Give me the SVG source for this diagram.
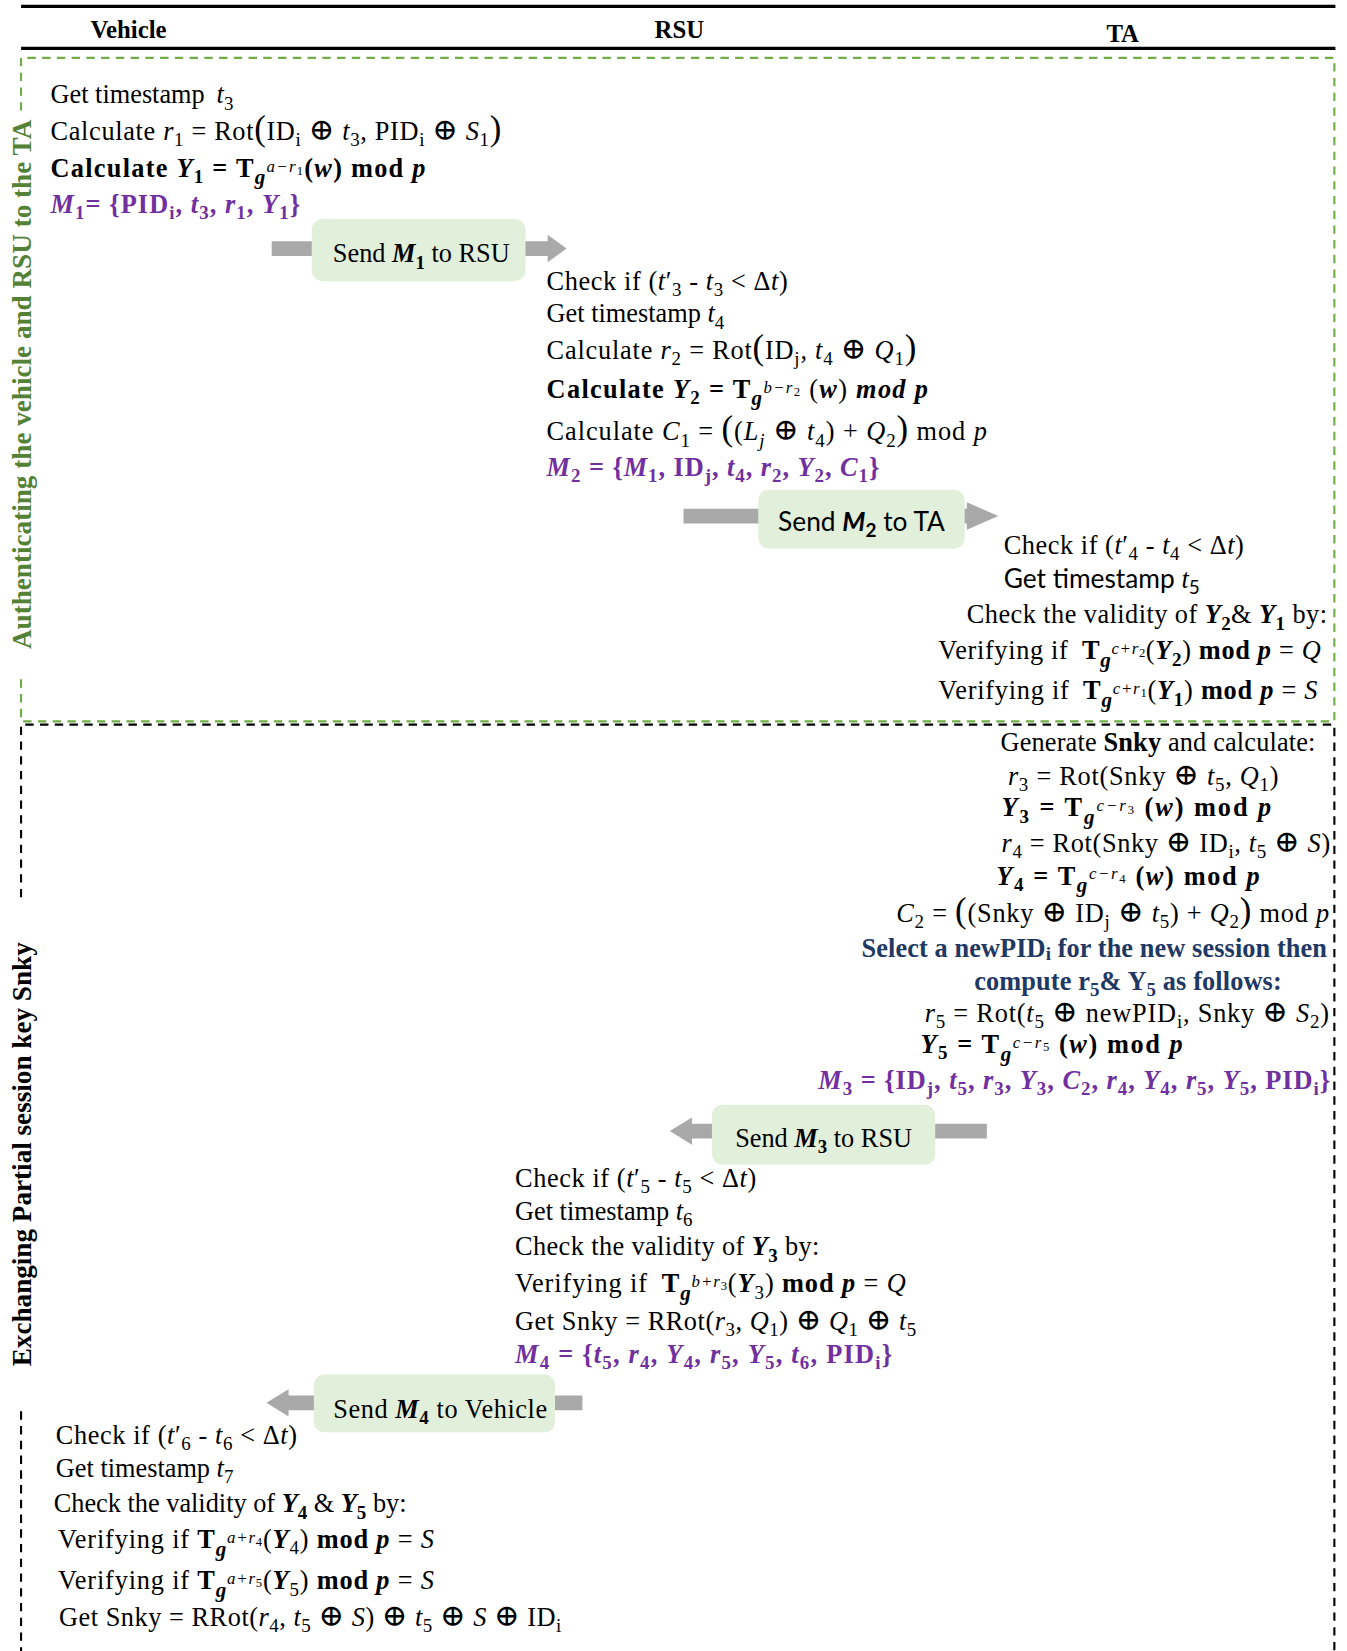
<svg xmlns="http://www.w3.org/2000/svg" width="1347" height="1651" viewBox="0 0 1347 1651">
<style>
text { font-family: "Liberation Serif", "DejaVu Serif", serif; font-size: 25px; fill: #000; }
.b { font-weight: 700; }
.i { font-style: italic; }
.s { font-size: 18px; }
.g { font-size: 20px; font-weight: 700; font-style: italic; }
.sp { font-size: 16px; font-style: italic; font-weight: 400; }
.ss { font-size: 12px; font-style: normal; font-weight: 400; }
.bp { font-size: 33px; font-weight: 400; font-style: normal; }
.x { font-size: 29px; font-weight: 400; font-style: normal; }
.pu { fill: #7030a0; }
.nv { fill: #1f3864; }
.sans { font-family: Lato, "Liberation Sans", sans-serif; }
.hd { font-size: 23.5px; font-weight: 700; }
.side { font-size: 25.8px; font-weight: 700; }
.msg { fill: #e2efda; }
.arrow { fill: #a9a9a9; }
.rule { stroke: #000; stroke-width: 3; }
.gdash { fill: none; stroke: #70ad47; stroke-width: 2; stroke-dasharray: 8 6; }
.kdash { fill: none; stroke: #000; stroke-width: 2; stroke-dasharray: 8 6; }
</style>
<rect width="1347" height="1651" fill="#fff"/>
<g transform="scale(1.05317)">

<!-- column header -->
<g id="header">
<line class="rule" x1="20" y1="6" x2="1268" y2="6"/>
<line class="rule" x1="20" y1="46" x2="1268" y2="46"/>
<text class="hd" x="122" y="36" text-anchor="middle">Vehicle</text>
<text class="hd" x="645" y="36" text-anchor="middle">RSU</text>
<text class="hd" x="1066" y="40" text-anchor="middle">TA</text>
</g>

<!-- phase frames and their vertical captions -->
<g id="phase-auth">
<path class="gdash" d="M20 105 V55 H1267 V685 H20 V640"/>
<text class="side" style="fill:#538135" transform="translate(29,365) rotate(-90)" text-anchor="middle">Authenticating the vehicle and RSU to the TA</text>
</g>
<g id="phase-key">
<path class="kdash" d="M20 852 V688 H1267 V1568"/>
<path class="kdash" d="M20 1340 V1568"/>
<text class="side" transform="translate(29,1096) rotate(-90)" text-anchor="middle">Exchanging Partial session key Snky</text>
</g>

<!-- message arrows -->
<g id="connectors">
<polygon class="arrow" points="258,229 520,229 520,223 538,236 520,249 520,243 258,243"/>
<polygon class="arrow" points="649,483 918,483 918,477 948,490 918,503 918,497 649,497"/>
<polygon class="arrow" points="937,1067 657,1067 657,1061 636,1074 657,1087 657,1081 937,1081"/>
<polygon class="arrow" points="553,1325 274,1325 274,1319 253,1332 274,1345 274,1339 553,1339"/>
</g>

<!-- message boxes -->
<g id="send-m1">
<rect class="msg" x="296" y="208" width="203" height="59" rx="10"/>
<text x="400" y="249" text-anchor="middle">Send <tspan class="b i">M</tspan><tspan class="s b" dy="6">1</tspan><tspan dy="-6"> to RSU</tspan></text>
</g>
<g id="send-m2">
<rect class="msg" x="720" y="465" width="196" height="56" rx="10"/>
<text class="sans" x="818" y="504" text-anchor="middle">Send <tspan class="b i">M</tspan><tspan class="s b" dy="6">2</tspan><tspan dy="-6"> to TA</tspan></text>
</g>
<g id="send-m3">
<rect class="msg" x="676" y="1049" width="212" height="57" rx="10"/>
<text x="782" y="1089" text-anchor="middle">Send <tspan class="b i">M</tspan><tspan class="s b" dy="6">3</tspan><tspan dy="-6"> to RSU</tspan></text>
</g>
<g id="send-m4">
<rect class="msg" x="298" y="1305" width="229" height="55" rx="10"/>
<text x="418" y="1346" text-anchor="middle" textLength="203">Send <tspan class="b i">M</tspan><tspan class="s b" dy="6">4</tspan><tspan dy="-6"> to Vehicle</tspan></text>
</g>

<!-- vehicle: build M1 -->
<g id="vehicle-step1">
<text x="48" y="98">Get timestamp <tspan dx="5" class="i">t</tspan><tspan class="s" dy="6">3</tspan></text>
<text x="48" y="133" textLength="428">Calculate <tspan class="i">r</tspan><tspan class="s" dy="6">1</tspan><tspan dy="-6"> = Rot</tspan><tspan class="bp">(</tspan><tspan>ID</tspan><tspan class="s" dy="6">i</tspan><tspan dy="-6"> </tspan><tspan class="x">⊕</tspan><tspan> </tspan><tspan class="i">t</tspan><tspan class="s" dy="6">3</tspan><tspan dy="-6">,  PID</tspan><tspan class="s" dy="6">i</tspan><tspan dy="-6"> </tspan><tspan class="x">⊕</tspan><tspan> </tspan><tspan class="i">S</tspan><tspan class="s" dy="6">1</tspan><tspan class="bp" dy="-6">)</tspan></text>
<text class="b" x="48" y="168" textLength="356">Calculate <tspan class="i">Y</tspan><tspan class="s" dy="6">1</tspan><tspan dy="-6"> = T</tspan><tspan class="g" dy="7">g</tspan><tspan class="sp" dy="-12">a−r</tspan><tspan class="ss" dy="3">1</tspan><tspan dy="2">(</tspan><tspan class="i">w</tspan><tspan>) mod </tspan><tspan class="i">p</tspan></text>
<text class="b pu" x="48" y="202" textLength="237"><tspan class="i">M</tspan><tspan class="s" dy="6">1</tspan><tspan dy="-6">= {PID</tspan><tspan class="s" dy="6">i</tspan><tspan dy="-6">, </tspan><tspan class="i">t</tspan><tspan class="s" dy="6">3</tspan><tspan dy="-6">, </tspan><tspan class="i">r</tspan><tspan class="s" dy="6">1</tspan><tspan dy="-6">, </tspan><tspan class="i">Y</tspan><tspan class="s" dy="6">1</tspan><tspan dy="-6">}</tspan></text>
</g>

<!-- RSU: check M1, build M2 -->
<g id="rsu-step1">
<text x="519" y="275" textLength="229">Check if (<tspan class="i">t</tspan>′<tspan class="s" dy="6">3</tspan><tspan dy="-6"> - </tspan><tspan class="i">t</tspan><tspan class="s" dy="6">3</tspan><tspan dy="-6"> &lt; Δ</tspan><tspan class="i">t</tspan>)</text>
<text x="519" y="306">Get timestamp <tspan class="i">t</tspan><tspan class="s" dy="6">4</tspan></text>
<text x="519" y="341" textLength="351">Calculate <tspan class="i">r</tspan><tspan class="s" dy="6">2</tspan><tspan dy="-6"> = Rot</tspan><tspan class="bp">(</tspan><tspan>ID</tspan><tspan class="s" dy="6">j</tspan><tspan dy="-6">,  </tspan><tspan class="i">t</tspan><tspan class="s" dy="6">4</tspan><tspan dy="-6"> </tspan><tspan class="x">⊕</tspan><tspan>  </tspan><tspan class="i">Q</tspan><tspan class="s" dy="6">1</tspan><tspan class="bp" dy="-6">)</tspan></text>
<text x="519" y="378" textLength="362"><tspan class="b">Calculate </tspan><tspan class="b i">Y</tspan><tspan class="s b" dy="6">2</tspan><tspan class="b" dy="-6"> = T</tspan><tspan class="g" dy="7">g</tspan><tspan class="sp" dy="-12">b−r</tspan><tspan class="ss" dy="3">2</tspan><tspan dy="2"> (</tspan><tspan class="b i">w</tspan><tspan>) </tspan><tspan class="b i">mod p</tspan></text>
<text x="519" y="418" textLength="418">Calculate <tspan class="i">C</tspan><tspan class="s" dy="6">1</tspan><tspan dy="-6"> = </tspan><tspan class="bp">(</tspan><tspan>(</tspan><tspan class="i">L</tspan><tspan class="s i" dy="6">j</tspan><tspan dy="-6"> </tspan><tspan class="x">⊕</tspan><tspan> </tspan><tspan class="i">t</tspan><tspan class="s" dy="6">4</tspan><tspan dy="-6">) +  </tspan><tspan class="i">Q</tspan><tspan class="s" dy="6">2</tspan><tspan class="bp" dy="-6">)</tspan><tspan> mod </tspan><tspan class="i">p</tspan></text>
<text class="b pu" x="519" y="452" textLength="316"><tspan class="i">M</tspan><tspan class="s" dy="6">2</tspan><tspan dy="-6"> = {</tspan><tspan class="i">M</tspan><tspan class="s" dy="6">1</tspan><tspan dy="-6">, ID</tspan><tspan class="s" dy="6">j</tspan><tspan dy="-6">, </tspan><tspan class="i">t</tspan><tspan class="s" dy="6">4</tspan><tspan dy="-6">, </tspan><tspan class="i">r</tspan><tspan class="s" dy="6">2</tspan><tspan dy="-6">, </tspan><tspan class="i">Y</tspan><tspan class="s" dy="6">2</tspan><tspan dy="-6">, </tspan><tspan class="i">C</tspan><tspan class="s" dy="6">1</tspan><tspan dy="-6">}</tspan></text>
</g>

<!-- TA: verify Y1 and Y2 -->
<g id="ta-step1">
<text x="953" y="526" textLength="228">Check if (<tspan class="i">t</tspan>′<tspan class="s" dy="6">4</tspan><tspan dy="-6"> - </tspan><tspan class="i">t</tspan><tspan class="s" dy="6">4</tspan><tspan dy="-6"> &lt; Δ</tspan><tspan class="i">t</tspan>)</text>
<text class="sans" x="953" y="558">Get timestamp <tspan class="i" style="font-family:'Liberation Serif',serif">t</tspan><tspan class="s" dy="6">5</tspan></text>
<text x="1260" y="592" text-anchor="end" textLength="342">Check the validity of <tspan class="b i">Y</tspan><tspan class="s b" dy="6">2</tspan><tspan dy="-6">&amp; </tspan><tspan class="b i">Y</tspan><tspan class="s b" dy="6">1</tspan><tspan dy="-6"> by:</tspan></text>
<text x="891" y="626" textLength="363">Verifying if  <tspan class="b" dx="6">T</tspan><tspan class="g" dy="7">g</tspan><tspan class="sp" dy="-12">c+r</tspan><tspan class="ss" dy="3">2</tspan><tspan dy="2">(</tspan><tspan class="b i">Y</tspan><tspan class="s b" dy="6">2</tspan><tspan dy="-6">) </tspan><tspan class="b">mod </tspan><tspan class="b i">p</tspan><tspan> = </tspan><tspan class="i">Q</tspan></text>
<text x="891" y="664" textLength="360">Verifying if  <tspan class="b" dx="6">T</tspan><tspan class="g" dy="7">g</tspan><tspan class="sp" dy="-12">c+r</tspan><tspan class="ss" dy="3">1</tspan><tspan dy="2">(</tspan><tspan class="b i">Y</tspan><tspan class="s b" dy="6">1</tspan><tspan dy="-6">) </tspan><tspan class="b">mod </tspan><tspan class="b i">p</tspan><tspan> = </tspan><tspan class="i">S</tspan></text>
</g>

<!-- TA: session key and M3 -->
<g id="ta-step2">
<text x="950" y="713" textLength="299">Generate <tspan class="b">Snky</tspan> and calculate:</text>
<text x="957" y="745" textLength="257"><tspan class="i">r</tspan><tspan class="s" dy="6">3</tspan><tspan dy="-6"> = Rot(Snky </tspan><tspan class="x">⊕</tspan><tspan> </tspan><tspan class="i">t</tspan><tspan class="s" dy="6">5</tspan><tspan dy="-6">, </tspan><tspan class="i">Q</tspan><tspan class="s" dy="6">1</tspan><tspan dy="-6">)</tspan></text>
<text class="b" x="951" y="775" textLength="256"><tspan class="i">Y</tspan><tspan class="s" dy="6">3</tspan><tspan dy="-6"> =  T</tspan><tspan class="g" dy="7">g</tspan><tspan class="sp" dy="-12">c−r</tspan><tspan class="ss" dy="3">3</tspan><tspan dy="2"> (</tspan><tspan class="i">w</tspan><tspan>) mod </tspan><tspan class="i">p</tspan></text>
<text x="951" y="809" textLength="312"><tspan class="i">r</tspan><tspan class="s" dy="6">4</tspan><tspan dy="-6"> = Rot(Snky </tspan><tspan class="x">⊕</tspan><tspan> ID</tspan><tspan class="s" dy="6">i</tspan><tspan dy="-6">, </tspan><tspan class="i">t</tspan><tspan class="s" dy="6">5</tspan><tspan dy="-6"> </tspan><tspan class="x">⊕</tspan><tspan> </tspan><tspan class="i">S</tspan><tspan>)</tspan></text>
<text class="b" x="946" y="840" textLength="250"><tspan class="i">Y</tspan><tspan class="s" dy="6">4</tspan><tspan dy="-6"> = T</tspan><tspan class="g" dy="7">g</tspan><tspan class="sp" dy="-12">c−r</tspan><tspan class="ss" dy="3">4</tspan><tspan dy="2"> (</tspan><tspan class="i">w</tspan><tspan>) mod </tspan><tspan class="i">p</tspan></text>
<text x="851" y="875" textLength="411"><tspan class="i">C</tspan><tspan class="s" dy="6">2</tspan><tspan dy="-6"> = </tspan><tspan class="bp">(</tspan><tspan>(Snky </tspan><tspan class="x">⊕</tspan><tspan> ID</tspan><tspan class="s" dy="6">j</tspan><tspan dy="-6"> </tspan><tspan class="x">⊕</tspan><tspan> </tspan><tspan class="i">t</tspan><tspan class="s" dy="6">5</tspan><tspan dy="-6">) + </tspan><tspan class="i">Q</tspan><tspan class="s" dy="6">2</tspan><tspan class="bp" dy="-6">)</tspan><tspan> mod </tspan><tspan class="i">p</tspan></text>
<text class="b nv" x="818" y="909" textLength="442">Select a newPID<tspan class="s" dy="3">i</tspan><tspan dy="-3"> for the new session then</tspan></text>
<text class="b nv" x="925" y="940" textLength="292">compute r<tspan class="s" dy="6">5</tspan><tspan dy="-6">&amp; Y</tspan><tspan class="s" dy="6">5</tspan><tspan dy="-6"> as follows:</tspan></text>
<text x="878" y="970" textLength="384"><tspan class="i">r</tspan><tspan class="s" dy="6">5</tspan><tspan dy="-6"> = Rot(</tspan><tspan class="i">t</tspan><tspan class="s" dy="6">5</tspan><tspan dy="-6"> </tspan><tspan class="x">⊕</tspan><tspan> newPID</tspan><tspan class="s" dy="6">i</tspan><tspan dy="-6">, Snky </tspan><tspan class="x">⊕</tspan><tspan> </tspan><tspan class="i">S</tspan><tspan class="s" dy="6">2</tspan><tspan dy="-6">)</tspan></text>
<text class="b" x="874" y="1000" textLength="249"><tspan class="i">Y</tspan><tspan class="s" dy="6">5</tspan><tspan dy="-6"> = T</tspan><tspan class="g" dy="7">g</tspan><tspan class="sp" dy="-12">c−r</tspan><tspan class="ss" dy="3">5</tspan><tspan dy="2"> (</tspan><tspan class="i">w</tspan><tspan>) mod </tspan><tspan class="i">p</tspan></text>
<text class="b pu" x="777" y="1034" textLength="486"><tspan class="i">M</tspan><tspan class="s" dy="6">3</tspan><tspan dy="-6"> = {ID</tspan><tspan class="s" dy="6">j</tspan><tspan dy="-6">, </tspan><tspan class="i">t</tspan><tspan class="s" dy="6">5</tspan><tspan dy="-6">, </tspan><tspan class="i">r</tspan><tspan class="s" dy="6">3</tspan><tspan dy="-6">, </tspan><tspan class="i">Y</tspan><tspan class="s" dy="6">3</tspan><tspan dy="-6">, </tspan><tspan class="i">C</tspan><tspan class="s" dy="6">2</tspan><tspan dy="-6">, </tspan><tspan class="i">r</tspan><tspan class="s" dy="6">4</tspan><tspan dy="-6">, </tspan><tspan class="i">Y</tspan><tspan class="s" dy="6">4</tspan><tspan dy="-6">, </tspan><tspan class="i">r</tspan><tspan class="s" dy="6">5</tspan><tspan dy="-6">, </tspan><tspan class="i">Y</tspan><tspan class="s" dy="6">5</tspan><tspan dy="-6">, PID</tspan><tspan class="s" dy="6">i</tspan><tspan dy="-6">}</tspan></text>
</g>

<!-- RSU: verify Y3, build M4 -->
<g id="rsu-step2">
<text x="489" y="1127" textLength="229">Check if (<tspan class="i">t</tspan>′<tspan class="s" dy="6">5</tspan><tspan dy="-6"> - </tspan><tspan class="i">t</tspan><tspan class="s" dy="6">5</tspan><tspan dy="-6"> &lt; Δ</tspan><tspan class="i">t</tspan>)</text>
<text x="489" y="1158">Get timestamp <tspan class="i">t</tspan><tspan class="s" dy="6">6</tspan></text>
<text x="489" y="1192" textLength="289">Check the validity of <tspan class="b i">Y</tspan><tspan class="s b" dy="6">3</tspan><tspan dy="-6"> by:</tspan></text>
<text x="489" y="1227" textLength="371">Verifying  if  <tspan class="b" dx="6">T</tspan><tspan class="g" dy="7">g</tspan><tspan class="sp" dy="-12">b+r</tspan><tspan class="ss" dy="3">3</tspan><tspan dy="2">(</tspan><tspan class="b i">Y</tspan><tspan class="s" dy="6">3</tspan><tspan dy="-6">) </tspan><tspan class="b">mod </tspan><tspan class="b i">p</tspan><tspan> = </tspan><tspan class="i">Q</tspan></text>
<text x="489" y="1263" textLength="381">Get Snky = RRot(<tspan class="i">r</tspan><tspan class="s" dy="6">3</tspan><tspan dy="-6">, </tspan><tspan class="i">Q</tspan><tspan class="s" dy="6">1</tspan><tspan dy="-6">) </tspan><tspan class="x">⊕</tspan><tspan> </tspan><tspan class="i">Q</tspan><tspan class="s" dy="6">1</tspan><tspan dy="-6"> </tspan><tspan class="x">⊕</tspan><tspan> </tspan><tspan class="i">t</tspan><tspan class="s" dy="6">5</tspan></text>
<text class="b pu" x="489" y="1294" textLength="358"><tspan class="i">M</tspan><tspan class="s" dy="6">4</tspan><tspan dy="-6"> = {</tspan><tspan class="i">t</tspan><tspan class="s" dy="6">5</tspan><tspan dy="-6">, </tspan><tspan class="i">r</tspan><tspan class="s" dy="6">4</tspan><tspan dy="-6">, </tspan><tspan class="i">Y</tspan><tspan class="s" dy="6">4</tspan><tspan dy="-6">, </tspan><tspan class="i">r</tspan><tspan class="s" dy="6">5</tspan><tspan dy="-6">, </tspan><tspan class="i">Y</tspan><tspan class="s" dy="6">5</tspan><tspan dy="-6">, </tspan><tspan class="i">t</tspan><tspan class="s" dy="6">6</tspan><tspan dy="-6">, PID</tspan><tspan class="s" dy="6">i</tspan><tspan dy="-6">}</tspan></text>
</g>

<!-- vehicle: verify Y4, Y5 and recover Snky -->
<g id="vehicle-step2">
<text x="53" y="1371" textLength="229">Check if (<tspan class="i">t</tspan>′<tspan class="s" dy="6">6</tspan><tspan dy="-6"> - </tspan><tspan class="i">t</tspan><tspan class="s" dy="6">6</tspan><tspan dy="-6"> &lt; Δ</tspan><tspan class="i">t</tspan>)</text>
<text x="53" y="1402">Get timestamp <tspan class="i">t</tspan><tspan class="s" dy="6">7</tspan></text>
<text x="51" y="1436" textLength="335">Check the validity of <tspan class="b i">Y</tspan><tspan class="s b" dy="6">4</tspan><tspan dy="-6"> &amp; </tspan><tspan class="b i">Y</tspan><tspan class="s b" dy="6">5</tspan><tspan dy="-6"> by:</tspan></text>
<text x="55" y="1470" textLength="357">Verifying if <tspan class="b">T</tspan><tspan class="g" dy="7">g</tspan><tspan class="sp" dy="-12">a+r</tspan><tspan class="ss" dy="3">4</tspan><tspan dy="2">(</tspan><tspan class="b i">Y</tspan><tspan class="s" dy="6">4</tspan><tspan dy="-6">) </tspan><tspan class="b">mod </tspan><tspan class="b i">p</tspan><tspan> = </tspan><tspan class="i">S</tspan></text>
<text x="55" y="1509" textLength="357">Verifying if <tspan class="b">T</tspan><tspan class="g" dy="7">g</tspan><tspan class="sp" dy="-12">a+r</tspan><tspan class="ss" dy="3">5</tspan><tspan dy="2">(</tspan><tspan class="b i">Y</tspan><tspan class="s" dy="6">5</tspan><tspan dy="-6">) </tspan><tspan class="b">mod </tspan><tspan class="b i">p</tspan><tspan> = </tspan><tspan class="i">S</tspan></text>
<text x="56" y="1544" textLength="477">Get Snky = RRot(<tspan class="i">r</tspan><tspan class="s" dy="6">4</tspan><tspan dy="-6">, </tspan><tspan class="i">t</tspan><tspan class="s" dy="6">5</tspan><tspan dy="-6"> </tspan><tspan class="x">⊕</tspan><tspan> </tspan><tspan class="i">S</tspan><tspan>) </tspan><tspan class="x">⊕</tspan><tspan> </tspan><tspan class="i">t</tspan><tspan class="s" dy="6">5</tspan><tspan dy="-6"> </tspan><tspan class="x">⊕</tspan><tspan> </tspan><tspan class="i">S</tspan><tspan> </tspan><tspan class="x">⊕</tspan><tspan> ID</tspan><tspan class="s" dy="6">i</tspan></text>
</g>

</g>
</svg>
